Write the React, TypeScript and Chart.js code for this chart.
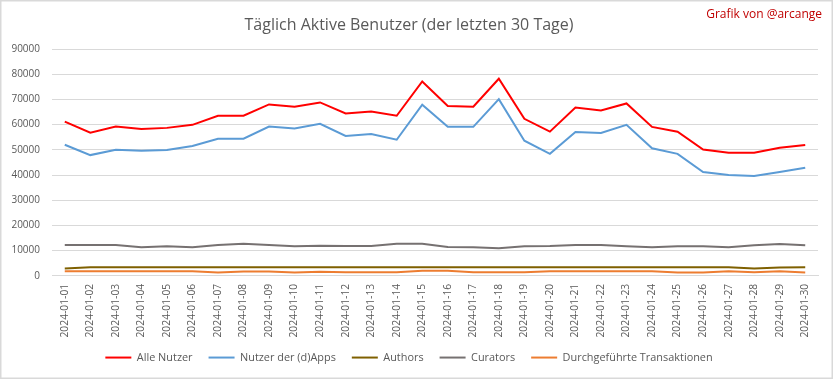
import React, { useEffect, useRef } from "react";
import { Chart, registerables } from "chart.js";

Chart.register(...registerables);

const dates = [
  "2024-01-01", "2024-01-02", "2024-01-03", "2024-01-04", "2024-01-05",
  "2024-01-06", "2024-01-07", "2024-01-08", "2024-01-09", "2024-01-10",
  "2024-01-11", "2024-01-12", "2024-01-13", "2024-01-14", "2024-01-15",
  "2024-01-16", "2024-01-17", "2024-01-18", "2024-01-19", "2024-01-20",
  "2024-01-21", "2024-01-22", "2024-01-23", "2024-01-24", "2024-01-25",
  "2024-01-26", "2024-01-27", "2024-01-28", "2024-01-29", "2024-01-30",
];

const alleNutzer = [
  61200, 56800, 59200, 58300, 58700, 59900, 63500, 63500, 68000, 67100,
  68800, 64400, 65200, 63500, 77100, 67400, 67100, 78200, 62300, 57200,
  66800, 65600, 68400, 59100, 57200, 50100, 48800, 48800, 50800, 51900,
];

const nutzerDApps = [
  52000, 47900, 50000, 49600, 49900, 51500, 54400, 54400, 59200, 58500,
  60300, 55500, 56300, 54000, 67900, 59100, 59100, 70100, 53600, 48400,
  57100, 56700, 59900, 50600, 48400, 41200, 40000, 39600, 41200, 42900,
];

const authors = [
  2900, 3400, 3400, 3400, 3400, 3400, 3400, 3400, 3400, 3400,
  3400, 3400, 3400, 3400, 3400, 3400, 3400, 3400, 3400, 3400,
  3400, 3400, 3400, 3400, 3400, 3400, 3400, 2900, 3300, 3400,
];

const curators = [
  12200, 12200, 12200, 11300, 11700, 11300, 12200, 12700, 12200, 11700,
  11900, 11800, 11800, 12700, 12700, 11400, 11300, 10900, 11700, 11800,
  12200, 12200, 11700, 11300, 11700, 11700, 11300, 12100, 12600, 12100,
];

const transaktionen = [
  1850, 1850, 1850, 1850, 1850, 1850, 1350, 1700, 1700, 1350,
  1600, 1450, 1450, 1450, 2000, 2000, 1450, 1450, 1450, 1850,
  1850, 1850, 1850, 1850, 1350, 1350, 1850, 1450, 1850, 1350,
];

const yTicks = [0, 10000, 20000, 30000, 40000, 50000, 60000, 70000, 80000, 90000];

const FONT = "'Open Sans', 'DejaVu Sans', sans-serif";
const TEXT = "#595959";
const GRID = "#d9d9d9";

const framePlugin = {
  id: "frame",
  afterDraw(chart: any) {
    const ctx = chart.ctx;
    ctx.save();
    ctx.strokeStyle = GRID;
    ctx.lineWidth = 1.5;
    ctx.strokeRect(0.75, 0.75, chart.width - 1.5, chart.height - 1.5);
    ctx.fillStyle = "#c00000";
    ctx.font = `12px ${FONT}`;
    ctx.textAlign = "right";
    ctx.textBaseline = "middle";
    ctx.fillText("Grafik von @arcange", 822, 15);
    ctx.restore();
  },
};

export default function App() {
  const ref = useRef<HTMLCanvasElement>(null);

  useEffect(() => {
    document.body.style.margin = "0";
    const mk = (label: string, data: number[], color: string) => ({
      label,
      data,
      borderColor: color,
      backgroundColor: color,
      borderWidth: 2,
      pointRadius: 0,
      pointHoverRadius: 0,
      tension: 0,
      fill: false,
    });
    const chart = new Chart(ref.current!, {
      type: "line",
      data: {
        labels: dates,
        datasets: [
          mk("Alle Nutzer", alleNutzer, "#ff0000"),
          mk("Nutzer der (d)Apps", nutzerDApps, "#5b9bd5"),
          mk("Authors", authors, "#7f6000"),
          mk("Curators", curators, "#767171"),
          mk("Durchgeführte Transaktionen", transaktionen, "#ed7d31"),
        ],
      },
      plugins: [framePlugin],
      options: {
        responsive: false,
        animation: false,
        events: [],
        layout: { padding: { left: 0, right: 15, top: 0, bottom: 6 } },
        plugins: {
          tooltip: { enabled: false },
          title: {
            display: true,
            text: "Täglich Aktive Benutzer (der letzten 30 Tage)",
            color: TEXT,
            font: { family: FONT, size: 16, weight: "normal" },
            padding: { top: 15.4, bottom: 14.4 },
          },
          legend: {
            position: "bottom",
            labels: {
              usePointStyle: true,
              pointStyle: "line",
              pointStyleWidth: 26,
              color: TEXT,
              padding: 16,
              font: { family: FONT, size: 10.9 },
            },
          },
        },
        scales: {
          x: {
            offset: true,
            grid: { display: false, drawTicks: false },
            border: { display: true, color: GRID },
            ticks: {
              autoSkip: false,
              minRotation: 90,
              maxRotation: 90,
              padding: 8,
              color: TEXT,
              font: { family: FONT, size: 10.3 },
            },
            afterFit: (s: any) => {
              s.height = 60.3;
              s._computeLabelArea = () => undefined;
            },
          },
          y: {
            min: 0,
            max: 90000,
            afterBuildTicks: (s: any) => {
              s.ticks = yTicks.map((v) => ({ value: v }));
            },
            grid: { color: GRID, drawTicks: false },
            border: { display: false },
            ticks: {
              padding: 12,
              color: TEXT,
              font: { family: FONT, size: 10 },
              callback: (v: any) => String(v),
            },
            afterFit: (s: any) => {
              s.width = 52;
            },
          },
        },
      },
    } as any);
    return () => chart.destroy();
  }, []);

  return (
    <div style={{ width: 833, height: 379 }}>
      <canvas ref={ref} width={833} height={379} style={{ display: "block" }} />
    </div>
  );
}
